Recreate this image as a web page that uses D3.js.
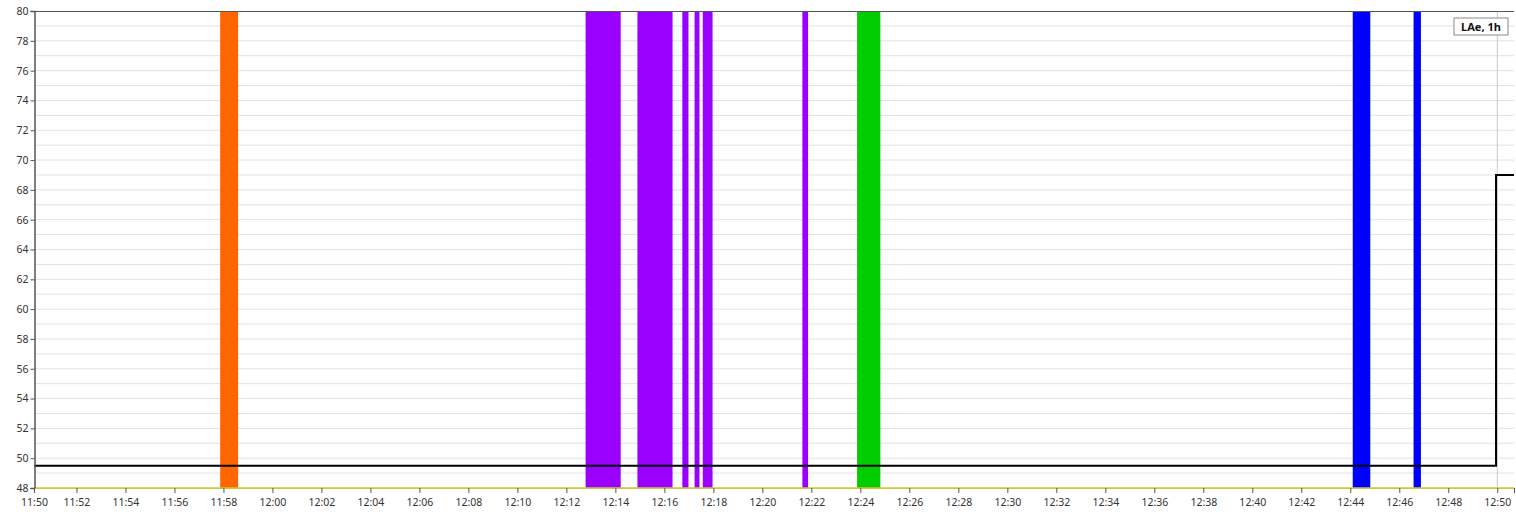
<!DOCTYPE html>
<html><head><meta charset="utf-8">
<script src="https://cdn.jsdelivr.net/npm/d3@7"></script>
<style>
body{margin:0;background:#fff;}
svg{display:block;font-family:"Noto Sans",sans-serif;}
</style></head>
<body><svg id="c" width="1516" height="515"></svg>
<script>
// ---- data ----
const domainStart = "11:50:16", domainEnd = "12:50:41";
const eventStarts = ["11:57:52","12:12:47","12:14:54","12:16:44","12:17:14","12:17:34","12:21:38","12:23:52","12:44:06","12:46:35"];
const eventEnds   = ["11:58:36","12:14:13","12:16:20","12:16:59","12:17:26","12:17:58","12:21:52","12:24:49","12:44:49","12:46:53"];
const eventColors = ["#ff6600","#9900ff","#9900ff","#9900ff","#9900ff","#9900ff","#9900ff","#00cc00","#0000ff","#0000ff"];
const laeTimes  = ["11:50:16","12:49:57","12:49:57","12:50:41"];
const laeValues = [49.5, 49.5, 69, 69];
const baseTimes = ["11:50:16","12:50:41"];
const baseValues = [48, 48];
const yTicks = d3.range(48, 81, 2);
const xTickTimes = d3.range(52, 111, 2).map(m => `${String(11 + Math.floor(m/60)).padStart(2,"0")}:${String(m%60).padStart(2,"0")}:00`);
const legendLabel = "LAe, 1h";

const parse = d3.timeParse("%H:%M:%S");
const fmt = d3.timeFormat("%H:%M");
const m = {l:34, r:1514, t:11, b:488};
const svg = d3.select("#c");
const x = d3.scaleTime().domain([parse(domainStart), parse(domainEnd)]).range([m.l, m.r]);
const y = d3.scaleLinear().domain([48, 80]).range([m.b, m.t]);

// grid lines (every unit)
svg.append("g").selectAll("line").data(d3.range(49, 80, 1)).join("line")
  .attr("x1", m.l).attr("x2", m.r).attr("y1", d => y(d)).attr("y2", d => y(d))
  .attr("stroke", "#e2e2e2").attr("stroke-width", 1);
// vertical grid at 12:50
svg.append("line").attr("x1", x(parse("12:50:00"))).attr("x2", x(parse("12:50:00")))
  .attr("y1", m.t).attr("y2", m.b).attr("stroke", "#c8c8c8");

// event bars
const ev = eventStarts.map((s,i)=>({s:parse(s), e:parse(eventEnds[i]), c:eventColors[i]}));
svg.append("g").selectAll("rect").data(ev).join("rect")
  .attr("x", d => x(d.s)).attr("width", d => x(d.e) - x(d.s))
  .attr("y", y(80)).attr("height", y(48) - y(80))
  .attr("fill", d => d.c);

// baseline (yellow)
const line = d3.line().x(d => x(d[0])).y(d => y(d[1]));
svg.append("path").datum(baseTimes.map((t,i)=>[parse(t), baseValues[i]]))
  .attr("d", line).attr("fill","none").attr("stroke","#cfc63a").attr("stroke-width",1.5);
// LAe line
svg.append("path").datum(laeTimes.map((t,i)=>[parse(t), laeValues[i]]))
  .attr("d", line).attr("fill","none").attr("stroke","#000").attr("stroke-width",2);

// frame top
svg.append("line").attr("x1", m.l).attr("x2", m.r).attr("y1", m.t+0.5).attr("y2", m.t+0.5).attr("stroke","#555");

// y axis
const ya = svg.append("g").attr("transform", `translate(${m.l+0.5},0)`)
  .call(d3.axisLeft(y).tickValues(yTicks).tickSize(4).tickPadding(2).tickFormat(d3.format("d")));
ya.select(".domain").attr("stroke","#555").attr("stroke-width",1.5);
ya.selectAll(".tick line").attr("stroke","#555");
ya.selectAll("text").attr("fill","#333").style("font-size","10.5px").style("font-family","Noto Sans");

// x axis
const xt = [parse(domainStart), ...xTickTimes.map(parse), parse(domainEnd)];
const xa = svg.append("g").attr("transform", `translate(0,${m.b})`)
  .call(d3.axisBottom(x).tickValues(xt).tickSize(5).tickPadding(6)
    .tickFormat((d,i) => i === xt.length - 1 ? "" : (i===0 ? "11:50" : fmt(d))));
xa.select(".domain").attr("stroke","#cfc63a").attr("stroke-width",1);
xa.selectAll(".tick line").attr("stroke","#555");
xa.selectAll("text").attr("fill","#333").style("font-size","10.5px").style("font-family","Noto Sans");

// legend
const lg = svg.append("g").attr("transform","translate(1454,18)");
lg.append("rect").attr("width",54).attr("height",17).attr("fill","#fff").attr("stroke","#888");
lg.append("text").attr("x",27).attr("y",12.5).attr("text-anchor","middle")
  .style("font-size","11px").style("font-weight","bold").style("font-family","Noto Sans").attr("fill","#111").text(legendLabel);
</script></body></html>
